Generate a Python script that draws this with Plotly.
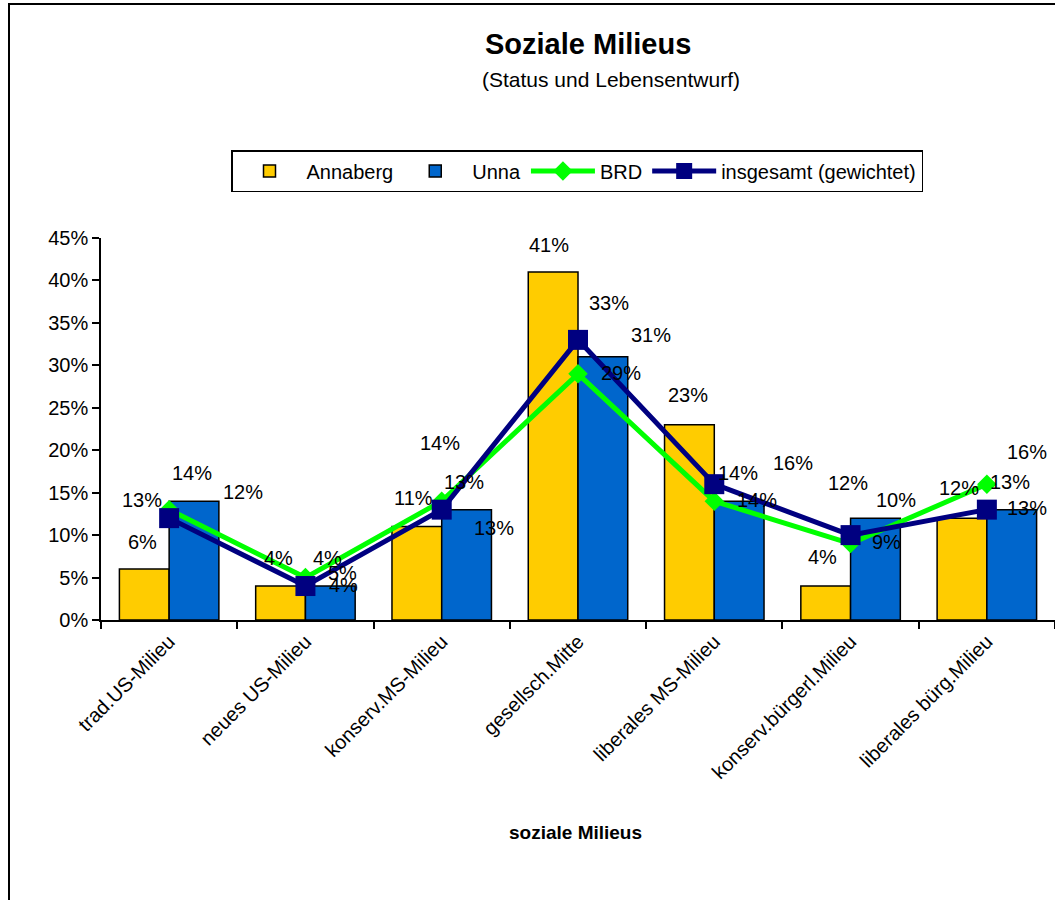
import plotly.graph_objects as go

# ---- data ----
categories = ["trad.US-Milieu", "neues US-Milieu", "konserv.MS-Milieu", "gesellsch.Mitte",
              "liberales MS-Milieu", "konserv.bürgerl.Milieu", "liberales bürg.Milieu"]
annaberg = [6, 4, 11, 41, 23, 4, 12]
unna = [14, 4, 13, 31, 14, 12, 13]
brd = [13, 5, 14, 29, 14, 9, 16]
insgesamt = [12, 4, 13, 33, 16, 10, 13]
y_tick_values = [0, 5, 10, 15, 20, 25, 30, 35, 40, 45]
y_tick_labels = [f"{v}%" for v in y_tick_values]

# ---- label offsets (pixels: right, up) relative to category centre / value ----
annaberg_off = [(-27, 27), (-27, 28), (-28, 29), (-29, 27), (-26, 30), (-28, 29), (-28, 30)]
unna_off = [(23, 28), (22, 28), (52, -18), (73, 22), (24, 28), (-3, 35), (40, 2)]
brd_off = [(-27, 10), (37, 5), (-2, 58), (43, 1), (43, 1), (36, 2), (40, 32)]
ins_off = [(74, 26), (38, 1), (22, 28), (31, 37), (79, 21), (45, 35), (23, 28)]

FONT = "Arial, Liberation Sans, sans-serif"
W, H = 1055, 900
ML, MR, MT, MB = 101, 0, 238, 280
PW, PH = W - ML - MR, H - MT - MB


# helpers converting positions measured in the reference picture into paper coordinates
def px_x(p):
    return (p - ML) / PW


def px_y(p):
    return (H - MB - p) / PH


fig = go.Figure()
fig.add_trace(go.Bar(name="Annaberg", x=categories, y=annaberg,
                     marker=dict(color="#FFCC00", line=dict(color="black", width=1.5))))
fig.add_trace(go.Bar(name="Unna", x=categories, y=unna,
                     marker=dict(color="#0066CC", line=dict(color="black", width=1.5))))
fig.add_trace(go.Scatter(name="BRD", x=categories, y=brd, mode="lines+markers",
                         line=dict(color="#00FF00", width=5),
                         marker=dict(symbol="diamond", size=15, color="#00FF00")))
fig.add_trace(go.Scatter(name="insgesamt (gewichtet)", x=categories, y=insgesamt,
                         mode="lines+markers",
                         line=dict(color="#000080", width=5),
                         marker=dict(symbol="square", size=20, color="#000080")))

annotations = []
for series, offs in [(annaberg, annaberg_off), (unna, unna_off), (brd, brd_off), (insgesamt, ins_off)]:
    for cat, v, (dx, dy) in zip(categories, series, offs):
        annotations.append(dict(x=cat, y=v, xref="x", yref="y", text=f"{v}%",
                                showarrow=False, xshift=dx, yshift=dy,
                                xanchor="center", yanchor="middle",
                                font=dict(family=FONT, size=20, color="black")))

annotations.append(dict(x=px_x(588), y=px_y(44), xref="paper", yref="paper",
                        xanchor="center", yanchor="middle",
                        text="<b>Soziale Milieus</b>", showarrow=False,
                        font=dict(family=FONT, size=29, color="black")))
annotations.append(dict(x=px_x(611), y=px_y(79), xref="paper", yref="paper",
                        xanchor="center", yanchor="middle",
                        text="(Status und Lebensentwurf)", showarrow=False,
                        font=dict(family=FONT, size=21, color="black")))
annotations.append(dict(x=px_x(575), y=px_y(832), xref="paper", yref="paper",
                        xanchor="center", yanchor="middle",
                        text="<b>soziale Milieus</b>", showarrow=False,
                        font=dict(family=FONT, size=19, color="black")))

fig.update_layout(
    width=W, height=H, autosize=False,
    margin=dict(l=ML, r=MR, t=MT, b=MB, pad=0),
    paper_bgcolor="white", plot_bgcolor="white",
    barmode="group", bargap=0.27, bargroupgap=0,
    font=dict(family=FONT, size=20, color="black"),
    showlegend=True,
    legend=dict(orientation="h", x=px_x(577), xanchor="center", y=px_y(150), yanchor="top",
                bordercolor="black", borderwidth=1.5, bgcolor="white",
                font=dict(family=FONT, size=20, color="black"), traceorder="normal",
                itemwidth=64),
    annotations=annotations,
    shapes=[dict(type="rect", xref="paper", yref="paper",
                 x0=px_x(9), x1=px_x(1100), y0=px_y(950), y1=px_y(4),
                 line=dict(color="black", width=2), fillcolor="rgba(0,0,0,0)", layer="below")],
    xaxis=dict(type="category", tickson="boundaries", ticks="outside", ticklen=7,
               tickcolor="black", tickwidth=1.5, showline=True, linecolor="black", linewidth=2,
               tickangle=-45, tickfont=dict(family=FONT, size=20, color="black"),
               range=[-0.5, 6.5], showgrid=False, zeroline=False),
    yaxis=dict(range=[0, 45], tickvals=y_tick_values, ticktext=y_tick_labels,
               ticks="outside", ticklen=7,
               tickcolor="black", tickwidth=1.5, showline=True, linecolor="black", linewidth=1.5,
               showgrid=False, zeroline=False, tickfont=dict(family=FONT, size=20, color="black")),
)

fig.write_html("out.html", config={"displayModeBar": False},
               post_script="document.body.style.margin='0px';document.body.style.overflow='hidden';")
